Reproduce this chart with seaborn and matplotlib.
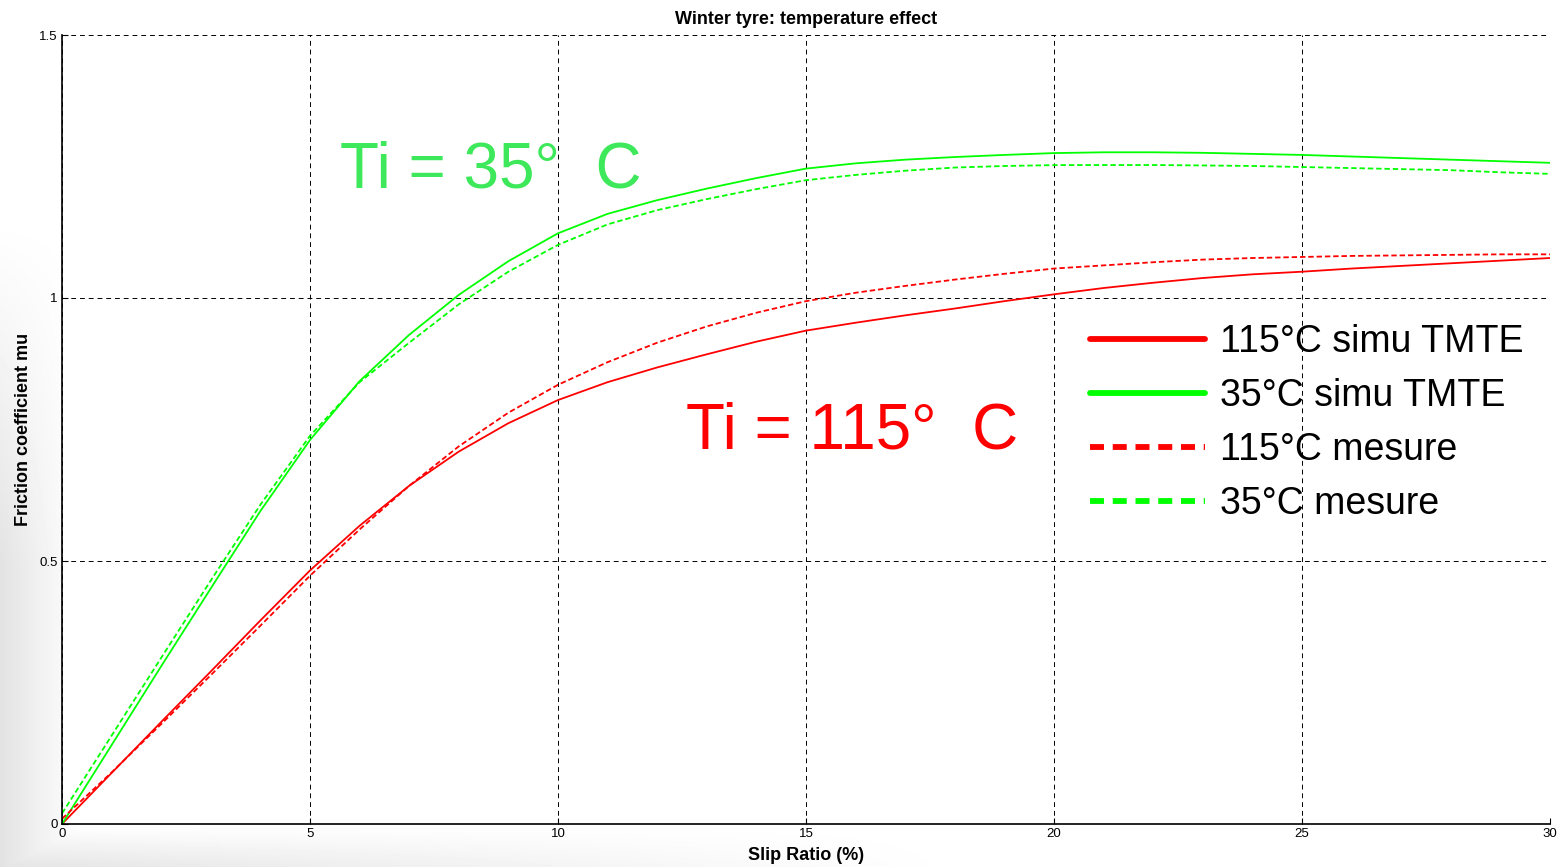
import numpy as np
import pandas as pd
import matplotlib
matplotlib.use("Agg")
import matplotlib.pyplot as plt
from matplotlib.lines import Line2D
import seaborn as sns

# ---- data ----
slip = [0, 1, 2, 3, 4, 5, 6, 7, 8, 9, 10, 11, 12, 13, 14, 15, 16, 17, 18, 19, 20,
        21, 22, 23, 24, 25, 26, 27, 28, 29, 30]
mu_115_simu = [0.0, 0.097, 0.194, 0.290, 0.387, 0.482, 0.567, 0.643, 0.708, 0.762, 0.806,
               0.840, 0.868, 0.893, 0.917, 0.938, 0.953, 0.967, 0.980, 0.994, 1.007,
               1.019, 1.029, 1.038, 1.045, 1.050, 1.056, 1.061, 1.066, 1.071, 1.076]
mu_35_simu = [0.0, 0.150, 0.300, 0.448, 0.595, 0.730, 0.842, 0.930, 1.006, 1.070, 1.123,
              1.160, 1.186, 1.208, 1.228, 1.246, 1.256, 1.263, 1.268, 1.272, 1.2755,
              1.277, 1.277, 1.276, 1.274, 1.272, 1.269, 1.266, 1.263, 1.260, 1.257]
mu_115_mesure = [0.01, 0.098, 0.190, 0.283, 0.377, 0.472, 0.560, 0.643, 0.718, 0.782, 0.835,
                 0.878, 0.915, 0.946, 0.972, 0.994, 1.010, 1.023, 1.035, 1.046, 1.056,
                 1.062, 1.068, 1.073, 1.076, 1.078, 1.080, 1.081, 1.082, 1.083, 1.083]
mu_35_mesure = [0.02, 0.168, 0.316, 0.463, 0.607, 0.738, 0.840, 0.915, 0.988, 1.050, 1.101,
                1.140, 1.167, 1.188, 1.207, 1.224, 1.234, 1.242, 1.248, 1.251, 1.2526,
                1.2528, 1.2528, 1.252, 1.251, 1.249, 1.247, 1.245, 1.243, 1.239, 1.236]

series_names = ["115°C simu TMTE", "35°C simu TMTE", "115°C mesure", "35°C mesure"]
x_ticks = [0, 5, 10, 15, 20, 25, 30]
y_ticks = [0, 0.5, 1, 1.5]
y_tick_labels = ["0", "0.5", "1", "1.5"]

df = pd.DataFrame({
    "slip": slip * 4,
    "mu": mu_115_simu + mu_35_simu + mu_115_mesure + mu_35_mesure,
    "series": sum([[n] * len(slip) for n in series_names], []),
})

palette = {series_names[0]: "#ff0000", series_names[1]: "#00ff00",
           series_names[2]: "#ff0000", series_names[3]: "#00ff00"}
dashes = {series_names[0]: "", series_names[1]: "",
          series_names[2]: (3, 1.6), series_names[3]: (3, 1.6)}

sns.set_theme(style="white")
plt.rcParams["font.family"] = ["Liberation Sans", "DejaVu Sans"]
plt.rcParams["text.color"] = "black"
plt.rcParams["axes.labelcolor"] = "black"
plt.rcParams["xtick.color"] = "black"
plt.rcParams["ytick.color"] = "black"

fig = plt.figure(figsize=(15.58, 8.67), dpi=100)

# decorative slide background (grey swoosh at the lower left)
bg = fig.add_axes([0, 0, 1, 1], zorder=-10)
H, W = 217, 390
yy, xx = np.mgrid[0:H, 0:W]
u = xx / W
v = yy / H
shade = np.ones((H, W))
left_band = np.clip(1 - u / 0.05, 0, 1) * np.clip((v - 0.25) / 0.4, 0, 1)
bottom_band = np.clip((v - 0.95) / 0.05, 0, 1) * np.clip(1 - u / 0.62, 0, 1)
shade = shade - 0.11 * np.maximum(left_band, bottom_band)
bg.imshow(shade, cmap="gray", vmin=0, vmax=1, aspect="auto", extent=[0, 1, 0, 1],
          interpolation="bilinear")
bg.axis("off")

ax = fig.add_axes([62 / 1558, 43 / 867, 1488 / 1558, 789 / 867])
ax.set_facecolor("white")

sns.lineplot(data=df, x="slip", y="mu", hue="series", style="series",
             palette=palette, dashes=dashes, linewidth=1.3, ax=ax, legend=False)

ax.set_xlim(0, 30)
ax.set_ylim(0, 1.5)
ax.set_xticks(x_ticks)
ax.set_xticklabels([str(t) for t in x_ticks])
ax.set_yticks(y_ticks)
ax.set_yticklabels(y_tick_labels)
ax.tick_params(axis="both", direction="in", length=4, width=0.8, colors="black",
               labelsize=9.5, pad=3, left=True, bottom=True)
ax.grid(True, color="black", linestyle=(0, (5, 4)), linewidth=0.7)
for s in ["top", "right"]:
    ax.spines[s].set_visible(False)
for s in ["left", "bottom"]:
    ax.spines[s].set_color("black")
    ax.spines[s].set_linewidth(1.2)

ax.set_title("Winter tyre: temperature effect", fontsize=13, fontweight="bold", pad=8)
ax.set_xlabel("Slip Ratio (%)", fontsize=13, fontweight="bold", labelpad=5)
ax.set_ylabel("Friction coefficient mu", fontsize=13, fontweight="bold", labelpad=5)

ax.text(5.6, 1.21, "Ti = 35°  C", color="#3de85a", fontsize=46, va="baseline", ha="left")
ax.text(12.58, 0.713, "Ti = 115°  C", color="#ff0000", fontsize=46, va="baseline", ha="left")

handles = [
    Line2D([], [], color="#ff0000", lw=4.2, linestyle="-"),
    Line2D([], [], color="#00ff00", lw=4.2, linestyle="-"),
    Line2D([], [], color="#ff0000", lw=4.2, linestyle=(0, (2.4, 1.5))),
    Line2D([], [], color="#00ff00", lw=4.2, linestyle=(0, (2.4, 1.5))),
]
leg = ax.legend(handles, series_names, loc="upper left", bbox_to_anchor=(0.691, 0.634),
                frameon=False, fontsize=27, handlelength=3.07, handletextpad=0.4,
                labelspacing=0.48, borderpad=0, borderaxespad=0)
for t in leg.get_texts():
    t.set_color("black")

fig.savefig("out.png", dpi=100)
